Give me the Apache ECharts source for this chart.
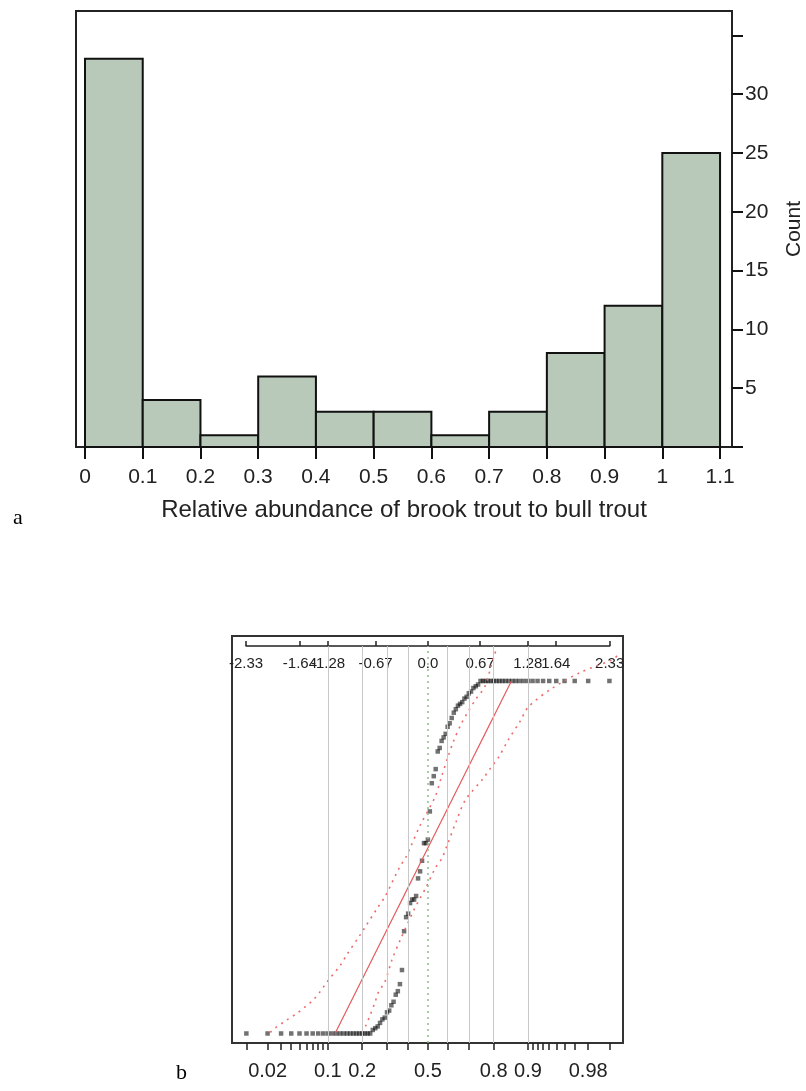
<!DOCTYPE html>
<html><head><meta charset="utf-8">
<script src="https://cdn.jsdelivr.net/npm/echarts@6/dist/echarts.min.js"></script>
<style>html,body{margin:0;padding:0;background:#fff}#c{width:806px;height:1091px}</style>
</head><body><div id="c"></div>
<script>
// ---------- panel a: histogram ----------
const binEdges = [0, 0.1, 0.2, 0.3, 0.4, 0.5, 0.6, 0.7, 0.8, 0.9, 1.0, 1.1];
const binLabels = ['0', '0.1', '0.2', '0.3', '0.4', '0.5', '0.6', '0.7', '0.8', '0.9', '1', '1.1'];
const histCounts = [33, 4, 1, 6, 3, 3, 1, 3, 8, 12, 25];
const countTicks = [0, 5, 10, 15, 20, 25, 30, 35];
const countLabelValues = [5, 10, 15, 20, 25, 30];
const histXTitle = 'Relative abundance of brook trout to bull trout';
const histYTitle = 'Count';

// ---------- panel b: normal quantile plot ----------
const qqZ = [-2.326,-2.054,-1.881,-1.751,-1.645,-1.555,-1.476,-1.405,-1.341,-1.282,-1.227,-1.175,-1.126,-1.080,-1.036,-0.994,-0.954,-0.915,-0.878,-0.842,-0.806,-0.772,-0.739,-0.706,-0.674,-0.643,-0.613,-0.583,-0.553,-0.524,-0.496,-0.468,-0.440,-0.412,-0.385,-0.358,-0.332,-0.305,-0.279,-0.253,-0.228,-0.202,-0.176,-0.151,-0.126,-0.100,-0.075,-0.050,-0.025,0,0.025,0.050,0.075,0.100,0.126,0.151,0.176,0.202,0.228,0.253,0.279,0.305,0.332,0.358,0.385,0.412,0.440,0.468,0.496,0.524,0.553,0.583,0.613,0.643,0.674,0.706,0.739,0.772,0.806,0.842,0.878,0.915,0.954,0.994,1.036,1.080,1.126,1.175,1.227,1.282,1.341,1.405,1.476,1.555,1.645,1.751,1.881,2.054,2.326];
const qqValue = [0,0,0,0,0,0,0,0,0,0,0,0,0,0,0,0,0,0,0,0,0,0,0,
  0.01,0.015,0.02,0.03,0.04,0.045,0.06,0.065,0.08,0.09,
  0.11,0.12,0.14,0.18,
  0.29,
  0.33,0.34,0.37,0.38,0.38,0.39,
  0.44,0.46,0.49,
  0.54,0.54,0.55,
  0.63,
  0.71,0.73,0.75,
  0.80,0.81,0.83,0.84,0.85,0.87,0.88,0.895,
  0.91,0.92,0.93,0.935,0.94,0.95,0.955,0.965,0.97,0.98,0.985,0.99,
  1,1,1,1,1,1,1,1,1,1,1,1,1,1,1,1,1,1,1,1,1,1,1,1,1];
const fitZ = [-1.19, 1.07];
const fitValue = [0, 1];
const bandUpperZ = [-2.02,-1.96,-1.81,-1.68,-1.57,-1.47,-1.38,-1.29,-1.12,-1.04,-0.87,-0.80,-0.65,-0.55,-0.36,-0.29,-0.23,-0.10,0.094,0.17,0.25,0.33,0.42,0.52,0.62,0.73,0.82,0.88];
const bandUpperV = [0.003,0.015,0.038,0.057,0.076,0.095,0.119,0.147,0.194,0.223,0.279,0.303,0.355,0.388,0.473,0.497,0.525,0.590,0.672,0.725,0.780,0.830,0.875,0.915,0.950,0.984,1.050,1.093];
const bandLowerZ = [-0.80,-0.74,-0.675,-0.63,-0.55,-0.46,-0.355,-0.18,-0.10,-0.03,0.094,0.18,0.24,0.36,0.48,0.71,0.80,0.91,1.03,1.18,1.29,1.59,1.97,2.36,2.46];
const bandLowerV = [0.02,0.052,0.09,0.119,0.147,0.209,0.265,0.35,0.384,0.412,0.469,0.497,0.53,0.60,0.662,0.724,0.752,0.785,0.833,0.885,0.927,0.979,1.026,1.06,1.079];
const probGridZ = [-1.282,-0.842,-0.524,-0.253,0.253,0.524,0.842,1.282];
const medianZ = 0;
const probTickZ = [-2.326,-2.054,-1.881,-1.751,-1.645,-1.555,-1.476,-1.405,-1.341,-1.282,-0.842,-0.524,-0.253,0,0.253,0.524,0.842,1.282,1.341,1.405,1.476,1.555,1.645,1.751,1.881,2.054,2.326];
const probLabelZ = [-2.054,-1.282,-0.842,0,0.842,1.282,2.054];
const probLabels = ['0.02','0.1','0.2','0.5','0.8','0.9','0.98'];
const normTickZ = [-2.33,-1.64,-1.28,-0.67,0,0.67,1.28,1.64,2.33];
const normLabels = ['-2.33','-1.64','-1.28','-0.67','0.0','0.67','1.28','1.64','2.33'];

const FONT = '"Liberation Sans", Arial, sans-serif';
function lookup(vals, labels, v) {
  for (let i = 0; i < vals.length; i++) if (Math.abs(vals[i] - v) < 1e-6) return labels[i];
  return '';
}

const histData = histCounts.map((c, i) => [binEdges[i], binEdges[i + 1], c]);
const qqData = qqZ.map((z, i) => [z, qqValue[i]]);
const fitData = fitZ.map((z, i) => [z, fitValue[i]]);
const upperData = bandUpperZ.map((z, i) => [z, bandUpperV[i]]);
const lowerData = bandLowerZ.map((z, i) => [z, bandLowerV[i]]);
const VMIN = -0.027, VMAX = 1.1276;
const gridLineData = probGridZ.map(z => [{ coord: [z, VMIN] }, { coord: [z, 1.099] }]);

const chart = echarts.init(document.getElementById('c'), null, { renderer: 'canvas' });
chart.setOption({
  animation: false,
  backgroundColor: '#fff',
  title: [
    { text: 'a', left: 13, top: 507, padding: 0, textStyle: { fontFamily: '"Liberation Serif", "Times New Roman", serif', fontSize: 22, fontWeight: 'normal', color: '#000' } },
    { text: 'b', left: 176, top: 1062, padding: 0, textStyle: { fontFamily: '"Liberation Serif", "Times New Roman", serif', fontSize: 22, fontWeight: 'normal', color: '#000' } }
  ],
  grid: [
    { left: 76, top: 11, width: 656, height: 436, show: true, borderColor: '#222', borderWidth: 2, containLabel: false, outerBoundsMode: 'none' },
    { left: 232, top: 636, width: 391, height: 407, show: true, borderColor: '#333', borderWidth: 2, containLabel: false, outerBoundsMode: 'none' },
    { left: 246.05, top: 645, width: 363.66, height: 1, containLabel: false, outerBoundsMode: 'none' }
  ],
  xAxis: [
    {
      gridIndex: 0, type: 'value', min: -0.0156, max: 1.1207, position: 'bottom',
      axisLine: { show: false, onZero: false },
      axisTick: { show: true, customValues: binEdges, length: 12, lineStyle: { color: '#111', width: 2 } },
      axisLabel: { customValues: binEdges, formatter: v => lookup(binEdges, binLabels, v), fontFamily: FONT, fontSize: 21, color: '#222', margin: 20 },
      splitLine: { show: false },
      name: histXTitle, nameLocation: 'middle', nameGap: 51,
      nameTextStyle: { fontFamily: FONT, fontSize: 24, color: '#222' }
    },
    {
      gridIndex: 1, type: 'value', min: -2.51, max: 2.5, position: 'bottom',
      axisLine: { show: false, onZero: false },
      axisTick: { show: true, customValues: probTickZ, length: 7, lineStyle: { color: '#222', width: 1.5 } },
      axisLabel: { customValues: probLabelZ, formatter: v => lookup(probLabelZ, probLabels, v), fontFamily: FONT, fontSize: 20, color: '#222', margin: 18 },
      splitLine: { show: false }
    },
    {
      gridIndex: 2, type: 'value', min: -2.33, max: 2.33, position: 'bottom',
      axisLine: { show: true, onZero: false, lineStyle: { color: '#222', width: 1.5 } },
      axisTick: { show: true, inside: true, customValues: normTickZ, length: 5, lineStyle: { color: '#222', width: 1.5 } },
      axisLabel: { customValues: normTickZ, showMinLabel: true, showMaxLabel: true, hideOverlap: false, formatter: v => lookup(normTickZ, normLabels, v), fontFamily: FONT, fontSize: 15, color: '#222', margin: 10 },
      splitLine: { show: false }
    }
  ],
  yAxis: [
    {
      gridIndex: 0, type: 'value', position: 'right', min: 0, max: 37.07,
      axisLine: { show: false, onZero: false },
      axisTick: { show: true, customValues: countTicks, length: 11, lineStyle: { color: '#111', width: 2 } },
      axisLabel: { customValues: countLabelValues, fontFamily: FONT, fontSize: 21, color: '#222', margin: 13 },
      splitLine: { show: false },
      name: histYTitle, nameLocation: 'middle', nameRotate: 90, nameGap: 52,
      nameTextStyle: { fontFamily: FONT, fontSize: 21, color: '#222' }
    },
    { gridIndex: 1, type: 'value', min: VMIN, max: VMAX, show: false, axisLine: { onZero: false } },
    { gridIndex: 2, type: 'value', min: 0, max: 1, show: false, axisLine: { onZero: false } }
  ],
  series: [
    {
      type: 'custom', xAxisIndex: 0, yAxisIndex: 0, data: histData,
      encode: { x: [0, 1], y: 2 },
      renderItem: function (params, api) {
        const p0 = api.coord([api.value(0), api.value(2)]);
        const p1 = api.coord([api.value(1), 0]);
        return { type: 'rect', shape: { x: p0[0], y: p0[1], width: p1[0] - p0[0], height: p1[1] - p0[1] },
          style: { fill: '#b8c8b9', stroke: '#111', lineWidth: 2 } };
      }
    },
    {
      type: 'line', xAxisIndex: 1, yAxisIndex: 1, data: [], silent: true,
      markLine: { symbol: 'none', silent: true, label: { show: false },
        lineStyle: { color: '#c8c8c8', width: 1, type: 'solid' },
        data: gridLineData.concat([[{ coord: [medianZ, VMIN], lineStyle: { color: '#8cbc8c', type: [2, 4], width: 1.5 } }, { coord: [medianZ, 1.099] }]]) }
    },
    {
      type: 'line', xAxisIndex: 1, yAxisIndex: 1, data: upperData, smooth: 0.3, symbol: 'none', silent: true,
      lineStyle: { color: '#ee6b6b', width: 1.6, type: [2, 5] }
    },
    {
      type: 'line', xAxisIndex: 1, yAxisIndex: 1, data: lowerData, smooth: 0.3, symbol: 'none', silent: true,
      lineStyle: { color: '#ee6b6b', width: 1.6, type: [2, 5] }
    },
    {
      type: 'line', xAxisIndex: 1, yAxisIndex: 1, data: fitData, symbol: 'none', silent: true,
      lineStyle: { color: '#e45a5a', width: 1.2 }
    },
    {
      type: 'scatter', xAxisIndex: 1, yAxisIndex: 1, data: qqData, symbol: 'rect', symbolSize: 4.5, silent: true,
      itemStyle: { color: 'rgba(10,10,10,0.72)' }
    }
  ]
});
</script></body></html>
